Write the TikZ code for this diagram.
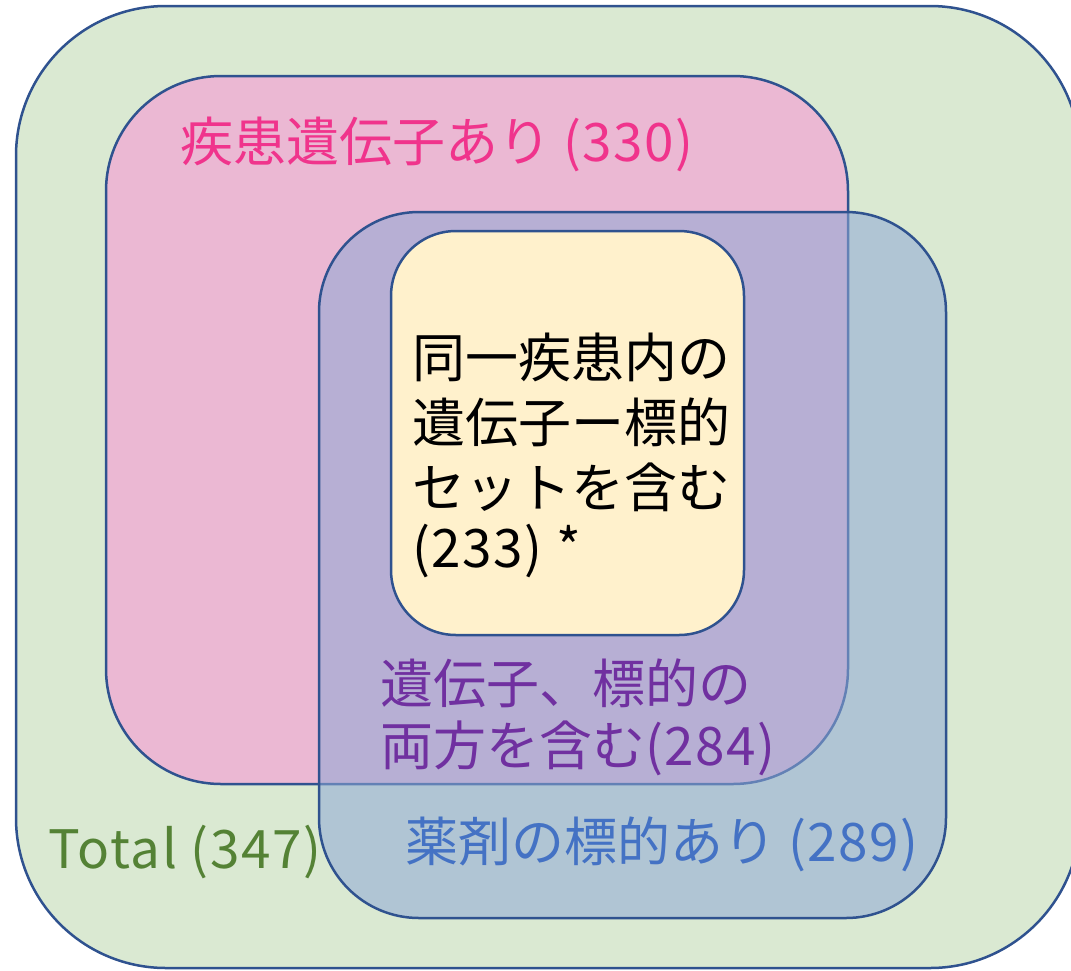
\documentclass[tikz,border=0pt]{standalone}
\usepackage{fontspec}
\setmainfont{Noto Sans CJK JP}
\newcommand{\lat}[1]{{\addfontfeature{LetterSpace=3}#1}}
\definecolor{edge}{RGB}{47,82,143}
\definecolor{totalfill}{RGB}{218,233,210}
\definecolor{diseasefill}{RGB}{235,184,211}
\definecolor{targetfill}{RGB}{142,169,214}
\definecolor{bothfill}{RGB}{255,241,204}
\definecolor{pinktext}{RGB}{240,52,140}
\definecolor{purpletext}{RGB}{112,48,160}
\definecolor{greentext}{RGB}{84,130,53}
\definecolor{bluetext}{RGB}{68,114,196}
\begin{document}
\begin{tikzpicture}[x=1pt,y=-1pt,
  setbox/.style={draw=edge, line width=2.5pt, inner sep=0pt, outer sep=0pt},
  lbl/.style={anchor=base west, inner sep=0pt, font=\fontsize{53}{64}\selectfont}]
\useasboundingbox (0,0) rectangle (1071,970);
\clip (0,0) rectangle (1071,970);
\node[setbox, fill=totalfill, rounded corners=150pt, minimum width=1064pt, minimum height=962pt] (total) at (548,487) {};
\node[setbox, fill=diseasefill, rounded corners=115pt, minimum width=742pt, minimum height=708pt] (disease) at (477,430) {};
\node[setbox, fill=targetfill, fill opacity=0.55, rounded corners=100pt, minimum width=627pt, minimum height=706pt] (target) at (632.5,565) {};
\node[setbox, fill=bothfill, rounded corners=65pt, minimum width=353pt, minimum height=404pt] (pair) at (567.5,433) {};
\node[lbl, text=pinktext] (tdisease) at (180,161) {疾患遺伝子あり \lat{(330)}};
\node[lbl, text=black] (tpair1) at (412,377) {同一疾患内の};
\node[lbl, text=black] (tpair2) at (412,442) {遺伝子ー標的};
\node[lbl, text=black] (tpair3) at (412,507) {セットを含む};
\node[lbl, text=black] (tpair4) at (412,567) {\lat{(233) *}};
\node[lbl, text=purpletext] (tboth1) at (380,703) {遺伝子、標的の};
\node[lbl, text=purpletext] (tboth2) at (380,765) {両方を含む\lat{(284)}};
\node[lbl, text=greentext] (ttotal) at (48,868) {\lat{Total (347)}};
\node[lbl, text=bluetext] (ttarget) at (405,861) {薬剤の標的あり \lat{(289)}};
\end{tikzpicture}
\end{document}
